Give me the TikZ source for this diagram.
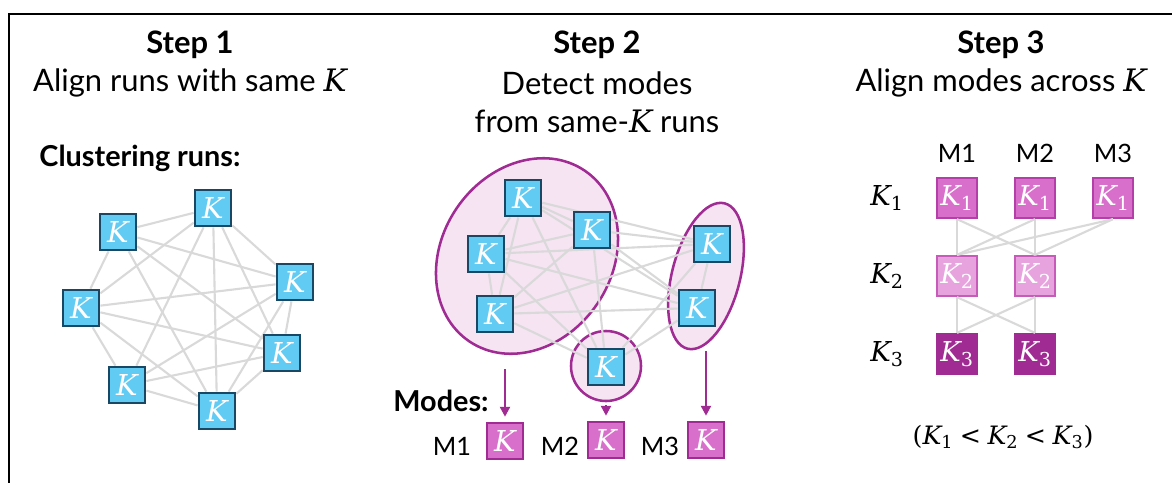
\documentclass[tikz,border=0pt]{standalone}
\usepackage{fontspec}
\setmainfont{Lato}
\newfontfamily\kfont{DejaVu Serif}
\newcommand{\kvar}{{\kfont\itshape K}}
\newcommand{\ksub}[1]{\kvar\textsubscript{\kfont #1}}
\usetikzlibrary{arrows.meta,backgrounds}

\definecolor{runfill}{HTML}{61CBF3}
\definecolor{rundraw}{HTML}{1A4864}
\definecolor{linkgray}{HTML}{D9D9D9}
\definecolor{plum}{HTML}{A02B93}
\definecolor{plumlight}{HTML}{F6E4F3}
\definecolor{kfirst}{HTML}{D86FCB}
\definecolor{kfirstdraw}{HTML}{B43FA8}
\definecolor{ksecond}{HTML}{E6A3DE}
\definecolor{kseconddraw}{HTML}{C65BBA}
\definecolor{kthird}{HTML}{A02B93}

\begin{document}
\begin{tikzpicture}
    [x=0.025cm, y=-0.025cm, >={Triangle[length=7pt,width=7pt]}, node distance=1.95cm,
     run/.style={rectangle, draw=rundraw, line width=1.9pt, fill=runfill, minimum size=0.9cm,
       inner sep=0pt, text=white, font=\fontsize{20.5}{20.5}\selectfont},
     mode/.style={run, draw=plum, fill=kfirst},
     kbox/.style={rectangle, line width=1.6pt, minimum size=1cm, inner sep=0pt, text=white,
       font=\fontsize{19.5}{19.5}\selectfont},
     kone/.style={kbox, draw=kfirstdraw, fill=kfirst},
     ktwo/.style={kbox, draw=kseconddraw, fill=ksecond},
     kthree/.style={kbox, draw=kthird, fill=kthird},
     link/.style={draw=linkgray, line width=1.5pt},
     cluster/.style={draw=plum, fill=plumlight, line width=1.8pt},
     flow/.style={->, draw=plum, line width=1.6pt, shorten >=3.5pt},
     steptitle/.style={font=\fontsize{22}{26}\selectfont\bfseries},
     steptext/.style={font=\fontsize{22}{26}\selectfont},
     subtitle/.style={font=\fontsize{20.5}{24}\selectfont\bfseries},
     tag/.style={font=\fontsize{18}{20}\selectfont},
     rowlabel/.style={font=\fontsize{19.5}{22}\selectfont}]
  \useasboundingbox (0,0) rectangle (1172,482);
  \draw[line width=1.5pt] (9,490) |- (1180,14);

  % headings
  \begin{scope}[node distance=0.95cm]
  \node[steptitle] (step1) at (190,45) {Step 1};
  \node[steptext] (aim1) [below of=step1] {Align runs with same \kvar};
  \node[steptitle] (step2) at (597,45) {Step 2};
  \node[steptext] (aim2) [below of=step2] {Detect modes};
  \node[steptext] (aim2b) [below of=aim2] {from same-\kvar{} runs};
  \node[steptitle] (step3) at (1001,45) {Step 3};
  \node[steptext] (aim3) [below of=step3] {Align modes across \kvar};
  \end{scope}

  % step 1: runs with the same K
  \node[subtitle] (clust) at (140,158) {Clustering runs:};
  \node[run] (a1) at (213,208) {\kvar};
  \node[run] (a2) at (118,232) {\kvar};
  \node[run] (a3) at (81,308) {\kvar};
  \node[run] (a4) at (127,385) {\kvar};
  \node[run] (a5) at (217,411) {\kvar};
  \node[run] (a6) at (282,353) {\kvar};
  \node[run] (a7) at (295,282) {\kvar};

  \begin{scope}[on background layer]
  \draw[link] (a1) -- (a2);
  \draw[link] (a1) -- (a3);
  \draw[link] (a1) -- (a4);
  \draw[link] (a1) -- (a5);
  \draw[link] (a1) -- (a6);
  \draw[link] (a1) -- (a7);
  \draw[link] (a2) -- (a3);
  \draw[link] (a2) -- (a5);
  \draw[link] (a2) -- (a6);
  \draw[link] (a2) -- (a7);
  \draw[link] (a3) -- (a4);
  \draw[link] (a3) -- (a5);
  \draw[link] (a3) -- (a6);
  \draw[link] (a3) -- (a7);
  \draw[link] (a4) -- (a5);
  \draw[link] (a4) -- (a6);
  \draw[link] (a4) -- (a7);
  \draw[link] (a5) -- (a6);
  \draw[link] (a5) -- (a7);
  \draw[link] (a6) -- (a7);
  \end{scope}

  % step 2: clusters of runs give the modes
  \begin{scope}[on background layer]
  \draw[cluster, rotate around={56:(527,256)}] (527,256) ellipse [x radius=2.575cm, y radius=2.125cm];
  \draw[cluster, rotate around={75.6:(706,276)}] (706,276) ellipse [x radius=1.875cm, y radius=0.85cm];
  \draw[cluster] (606,366) circle [radius=0.875cm];
  \end{scope}

  \node[run] (b1) at (523,198) {\kvar};
  \node[run] (b2) at (592,230) {\kvar};
  \node[run] (b3) at (486,254) {\kvar};
  \node[run] (b4) at (495,314) {\kvar};
  \node[run] (b5) at (712,244) {\kvar};
  \node[run] (b6) at (697,308) {\kvar};
  \node[run] (b7) at (606,367) {\kvar};

  \begin{scope}[on background layer]
  \draw[link] (b1) -- (b2);
  \draw[link] (b1) -- (b3);
  \draw[link] (b1) -- (b4);
  \draw[link] (b1) -- (b5);
  \draw[link] (b1) -- (b6);
  \draw[link] (b1) -- (b7);
  \draw[link] (b2) -- (b3);
  \draw[link] (b2) -- (b4);
  \draw[link] (b2) -- (b5);
  \draw[link] (b2) -- (b6);
  \draw[link] (b2) -- (b7);
  \draw[link] (b3) -- (b4);
  \draw[link] (b3) -- (b5);
  \draw[link] (b3) -- (b6);
  \draw[link] (b3) -- (b7);
  \draw[link] (b4) -- (b5);
  \draw[link] (b4) -- (b6);
  \draw[link] (b4) -- (b7);
  \draw[link] (b5) -- (b6);
  \draw[link] (b5) -- (b7);
  \draw[link] (b6) -- (b7);
  \end{scope}

  \node[subtitle] (modes) at (441,401) {Modes:};
  \node[mode] (m1) at (505,441) {\kvar};
  \node[mode] (m2) at (606,440) {\kvar};
  \node[mode] (m3) at (706,440) {\kvar};
  \node[tag] (m1name) at (452,446) {M1};
  \node[tag] (m2name) at (560,446) {M2};
  \node[tag] (m3name) at (660,446) {M3};

  \coordinate (tail1) at (505,369);
  \coordinate (tail2) at (606,405);
  \coordinate (tail3) at (706,351);
  \draw[flow] (tail1) -- (m1);
  \draw[flow] (tail2) -- (m2);
  \draw[flow] (tail3) -- (m3);

  % step 3: modes lined up across K
  \node[kone] (k11) at (957,198) {\ksub1};
  \node[kone] (k12) [right of=k11] {\ksub1};
  \node[kone] (k13) [right of=k12] {\ksub1};
  \node[ktwo] (k21) [below of=k11] {\ksub2};
  \node[ktwo] (k22) [below of=k12] {\ksub2};
  \node[kthree] (k31) [below of=k21] {\ksub3};
  \node[kthree] (k32) [below of=k22] {\ksub3};

  \node[tag, node distance=1.125cm, above of=k11] (col1) {M1};
  \node[tag, node distance=1.125cm, above of=k12] (col2) {M2};
  \node[tag, node distance=1.125cm, above of=k13] (col3) {M3};
  \node[rowlabel, node distance=1.75cm, left of=k11] (row1) {\ksub1};
  \node[rowlabel, node distance=1.75cm, left of=k21] (row2) {\ksub2};
  \node[rowlabel, node distance=1.75cm, left of=k31] (row3) {\ksub3};

  \draw[link] (k11.south) -- (k21.north);
  \draw[link] (k11.south) -- (k22.north);
  \draw[link] (k12.south) -- (k21.north);
  \draw[link] (k12.south) -- (k22.north);
  \draw[link] (k13.south) -- (k21.north);
  \draw[link] (k13.south) -- (k22.north);
  \draw[link] (k21.south) -- (k31.north);
  \draw[link] (k21.south) -- (k32.north);
  \draw[link] (k22.south) -- (k31.north);
  \draw[link] (k22.south) -- (k32.north);

  \node[font=\fontsize{18}{22}\selectfont] (order) at (1003,437) {{\kfont(}\ksub1 {\kfont<} \ksub2 {\kfont<} \ksub3{\kfont)}};
\end{tikzpicture}
\end{document}
